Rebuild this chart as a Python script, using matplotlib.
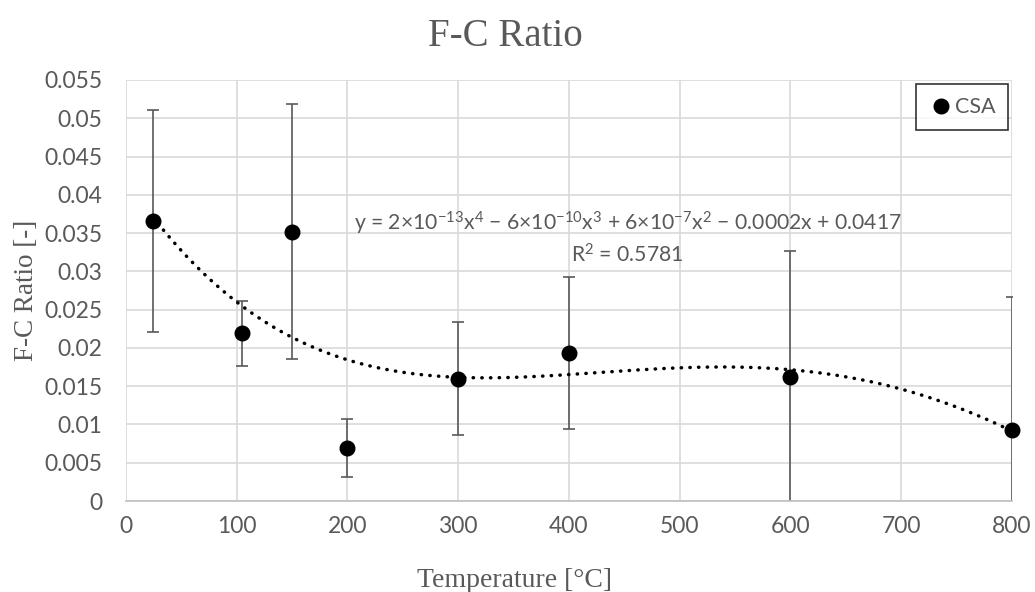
import matplotlib
matplotlib.use("Agg")
import matplotlib.pyplot as plt
import numpy as np
from matplotlib.ticker import FuncFormatter, MultipleLocator

# values
temps = [24, 105, 150, 200, 300, 400, 600, 800]
ratio = [0.0366, 0.0219, 0.0352, 0.0069, 0.0160, 0.0193, 0.0162, 0.0093]
err = [0.0145, 0.0042, 0.0166, 0.0038, 0.0074, 0.0099, 0.0164, 0.0173]

series_label = "CSA"
title = "F-C Ratio"
x_label = "Temperature [\u00b0C]"
y_label = "F-C Ratio [-]"
eq_text = ("y = 2\u00d710$^{\u221213}$x$^{4}$ \u2212 6\u00d710$^{\u221210}$x$^{3}$ + "
           "6\u00d710$^{\u22127}$x$^{2}$ \u2212 0.0002x + 0.0417")
r2_text = "R$^{2}$ = 0.5781"

GREY = "#595959"
SANS = ["Lato", "DejaVu Sans"]
SERIF = ["Liberation Serif", "DejaVu Serif"]

plt.rcParams["mathtext.fontset"] = "custom"
plt.rcParams["mathtext.rm"] = "Lato"
plt.rcParams["mathtext.it"] = "Lato"
plt.rcParams["mathtext.default"] = "regular"

fig = plt.figure(figsize=(10.35, 5.92), dpi=100)
ax = fig.add_axes([0.1217, 0.1537, 0.856, 0.7112])

# 4th order polynomial trendline, fitted to the points
coef = np.polyfit(temps, ratio, 4)
xs = np.linspace(min(temps), max(temps), 300)
ax.plot(xs, np.polyval(coef, xs), color="black", lw=2.5,
        linestyle=(0, (0.1, 2.4)), dash_capstyle="round", zorder=3)

ax.errorbar(temps, ratio, yerr=err, fmt="none", ecolor=GREY, elinewidth=1.2,
            capsize=4.5, capthick=1.2, zorder=2)
ax.plot(temps, ratio, "o", color="black", markersize=10.5, label=series_label,
        zorder=4, clip_on=False)

ax.set_xlim(0, 800)
ax.set_ylim(0, 0.055)
ax.xaxis.set_major_locator(MultipleLocator(100))
ax.yaxis.set_major_locator(MultipleLocator(0.005))
ax.yaxis.set_major_formatter(FuncFormatter(lambda v, _: f"{v:.3f}".rstrip("0").rstrip(".") if v else "0"))
ax.grid(True, color="#d9d9d9", lw=1.2, zorder=0)
ax.set_axisbelow(True)
for side in ["left", "top", "right"]:
    ax.spines[side].set_visible(False)
ax.spines["bottom"].set_color("#bfbfbf")
ax.spines["bottom"].set_linewidth(1.2)
ax.tick_params(length=0, labelsize=16.5, labelcolor=GREY)
ax.tick_params(axis="x", pad=11)
ax.tick_params(axis="y", pad=17)
for lab in ax.get_xticklabels() + ax.get_yticklabels():
    lab.set_family(SANS)

# title and x label sit centred on the figure, not the plot area
fig.text(0.488, 0.922, title, ha="center", va="baseline", fontsize=28,
         color=GREY, family=SERIF)
ax.set_xlabel(x_label, fontsize=20, color=GREY, family=SERIF)
ax.xaxis.set_label_coords(0.439, -0.16)
ax.set_ylabel(y_label, fontsize=19.5, color=GREY, family=SERIF, labelpad=4)

ax.text(453, 0.0363, eq_text, ha="center", va="center", fontsize=15.2,
        color=GREY, family=SANS, zorder=5)
ax.text(453, 0.0322, r2_text, ha="center", va="center", fontsize=15.2,
        color=GREY, family=SANS, zorder=5)

leg = ax.legend(loc="upper right", bbox_to_anchor=(0.998, 0.995), frameon=True,
                fancybox=False, handletextpad=0.1, handlelength=1.1,
                borderpad=0.6, borderaxespad=0.1,
                prop={"family": SANS, "size": 15.5})
leg.get_frame().set_edgecolor("black")
leg.get_frame().set_linewidth(1.2)
for t in leg.get_texts():
    t.set_color(GREY)

fig.savefig("out.png", dpi=100)
